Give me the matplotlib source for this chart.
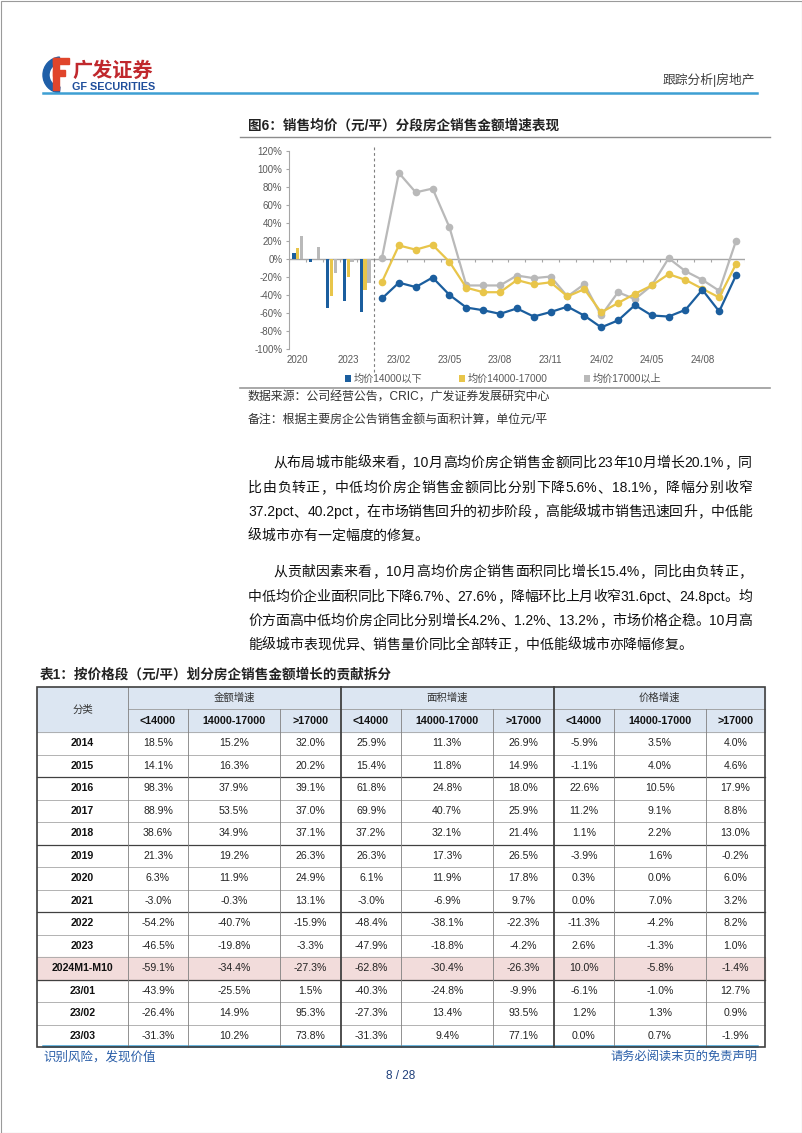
import re
import numpy as np
import matplotlib
matplotlib.use('Agg')
import matplotlib.pyplot as plt
from matplotlib.patches import Rectangle, Wedge

plt.rcParams['font.family'] = ['Liberation Sans', 'Noto Sans CJK SC']

# datos del grafico
bar_cats = ['2020', '2021', '2022', '2023', '2024M1-M10']
month_cats = ['23/01', '23/02', '23/03', '23/04', '23/05', '23/06', '23/07', '23/08',
              '23/09', '23/10', '23/11', '23/12', '24/01', '24/02', '24/03', '24/04',
              '24/05', '24/06', '24/07', '24/08', '24/09', '24/10']
bar_low = [6.3, -3.0, -54.2, -46.5, -59.1]
bar_mid = [11.9, -0.3, -40.7, -19.8, -34.4]
bar_high = [24.9, 13.1, -15.9, -3.3, -27.3]
m_low = [-43.9, -26.4, -31.3, -20.7, -40.0, -54.0, -57.0, -61.0, -55.0, -64.0, -59.0,
         -53.0, -63.0, -76.0, -68.3, -51.3, -62.8, -64.0, -56.5, -34.3, -58.3, -18.1]
m_mid = [-25.5, 14.9, 10.2, 15.5, -3.3, -32.0, -37.0, -37.0, -23.5, -28.4, -26.0,
         -41.7, -33.6, -59.4, -49.0, -38.8, -29.5, -17.0, -23.3, -33.2, -42.8, -5.6]
m_high = [1.5, 95.3, 73.8, 78.0, 35.0, -29.5, -29.5, -29.5, -18.5, -21.4, -19.6,
          -41.7, -28.0, -62.8, -37.0, -44.7, -29.5, 0.7, -13.7, -23.3, -35.4, 20.1]
series_names = ['均价14000以下', '均价14000-17000', '均价17000以上']
colores = ['#1b5e9e', '#e8c54a', '#b9b9b9']

# datos de la tabla
row_labels = ['2014', '2015', '2016', '2017', '2018', '2019', '2020', '2021', '2022',
              '2023', '2024M1-M10', '23/01', '23/02', '23/03']
amt_low = [18.5, 14.1, 98.3, 88.9, 38.6, 21.3, 6.3, -3.0, -54.2, -46.5, -59.1, -43.9, -26.4, -31.3]
amt_mid = [15.2, 16.3, 37.9, 53.5, 34.9, 19.2, 11.9, -0.3, -40.7, -19.8, -34.4, -25.5, 14.9, 10.2]
amt_high = [32.0, 20.2, 39.1, 37.0, 37.1, 26.3, 24.9, 13.1, -15.9, -3.3, -27.3, 1.5, 95.3, 73.8]
area_low = [25.9, 15.4, 61.8, 69.9, 37.2, 26.3, 6.1, -3.0, -48.4, -47.9, -62.8, -40.3, -27.3, -31.3]
area_mid = [11.3, 11.8, 24.8, 40.7, 32.1, 17.3, 11.9, -6.9, -38.1, -18.8, -30.4, -24.8, 13.4, 9.4]
area_high = [26.9, 14.9, 18.0, 25.9, 21.4, 26.5, 17.8, 9.7, -22.3, -4.2, -26.3, -9.9, 93.5, 77.1]
price_low = [-5.9, -1.1, 22.6, 11.2, 1.1, -3.9, 0.3, 0.0, -11.3, 2.6, 10.0, -6.1, 1.2, 0.0]
price_mid = [3.5, 4.0, 10.5, 9.1, 2.2, 1.6, 0.0, 7.0, -4.2, -1.3, -5.8, -1.0, 1.3, 0.7]
price_high = [4.0, 4.6, 17.9, 8.8, 13.0, -0.2, 6.0, 3.2, 8.2, 1.0, -1.4, 12.7, 0.9, -1.9]
group_names = ['金额增速', '面积增速', '价格增速']
band_names = ['<14000', '14000-17000', '>17000']

parrafo1 = ['从布局城市能级来看，10月高均价房企销售金额同比23年10月增长20.1%，同',
            '比由负转正，中低均价房企销售金额同比分别下降5.6%、18.1%，降幅分别收窄',
            '37.2pct、40.2pct，在市场销售回升的初步阶段，高能级城市销售迅速回升，中低能',
            '级城市亦有一定幅度的修复。']
parrafo2 = ['从贡献因素来看，10月高均价房企销售面积同比增长15.4%，同比由负转正，',
            '中低均价企业面积同比下降6.7%、27.6%，降幅环比上月收窄31.6pct、24.8pct。均',
            '价方面高中低均价房企同比分别增长4.2%、1.2%、13.2%，市场价格企稳。10月高',
            '能级城市表现优异、销售量价同比全部转正，中低能级城市亦降幅修复。']

W, H = 802, 1133
fig = plt.figure(figsize=(W / 100, H / 100), dpi=100)
pg = fig.add_axes([0, 0, 1, 1])
pg.set_xlim(0, W)
pg.set_ylim(H, 0)
pg.axis('off')
pg.add_patch(Rectangle((0.5, 0.5), W - 1, H - 1, fill=False, ec='#9a9a9a', lw=0.8))

# cabecera
pg.add_patch(Wedge((61, 75), 18, 95, 265, width=6, color='#1f5fa8'))
pg.add_patch(Rectangle((53, 58), 5.5, 32, color='#e0452b'))
pg.add_patch(Rectangle((53, 58), 16, 5.5, color='#e0452b'))
pg.add_patch(Rectangle((53, 70), 12, 5.5, color='#e0452b'))
pg.text(72, 71, '广发证券', fontsize=14.5, fontweight='bold', color='#c0282d', va='center')
pg.text(72, 86.5, 'GF SECURITIES', fontsize=7.8, fontweight='bold', color='#1f4e9b', va='center')
pg.text(755, 80, '跟踪分析|房地产', fontsize=9.2, color='#404040', va='center', ha='right')
pg.plot([43, 757], [93, 93], color='#3d9fd3', lw=1.8)

# titulo del grafico
pg.text(248, 126, '图6：销售均价（元/平）分段房企销售金额增速表现', fontsize=9.8,
        fontweight='bold', color='#222222', va='center')
pg.plot([240, 770], [137, 137], color='#8c8c8c', lw=1.0)

# grafico
x0, x1, ytop, ybot = 289.3, 744.5, 150.7, 349.0
ax = fig.add_axes([x0 / W, 1 - ybot / H, (x1 - x0) / W, (ybot - ytop) / H])
ax.patch.set_alpha(0)
cats = bar_cats + month_cats
xb = np.arange(len(bar_cats))
xm = np.arange(len(bar_cats), len(cats))
bw = 0.21
handles = []
for k, (vals, c) in enumerate(zip([bar_low, bar_mid, bar_high], colores)):
    handles.append(ax.bar(xb + (k - 1) * 0.23, vals, width=bw, color=c, zorder=3))
for vals, c in zip([m_high, m_mid, m_low], colores[::-1]):
    ax.plot(xm, vals, color=c, lw=1.6, marker='o', ms=5.5, mew=0, zorder=4)
ax.axhline(0, color='#a6a6a6', lw=1.0, zorder=2)
ax.vlines(np.arange(-0.5, len(cats), 1), -3, 0, colors='#a6a6a6', lw=0.8, zorder=2)
ax.axvline(4.5, ymin=-0.116, ymax=1.03, clip_on=False, color='#7f7f7f', lw=0.8,
           ls=(0, (2.5, 2.5)))
ax.set_xlim(-0.5, len(cats) - 0.5)
ax.set_ylim(-100, 120)
ax.set_yticks(np.arange(-100, 121, 20))
ax.set_yticklabels([f'{v}%' for v in range(-100, 121, 20)])
ax.set_xticks(np.arange(0, len(cats), 3))
ax.set_xticklabels(cats[::3])
for s in ['top', 'right', 'bottom']:
    ax.spines[s].set_visible(False)
ax.spines['left'].set_color('#a6a6a6')
ax.tick_params(axis='y', length=2.5, color='#a6a6a6', labelsize=7, labelcolor='#595959', pad=2.5)
ax.tick_params(axis='x', length=0, labelsize=7, labelcolor='#595959', pad=4)
ax.legend(handles, series_names, loc='center', bbox_to_anchor=(503 / W, 1 - 379 / H),
          bbox_transform=fig.transFigure, ncol=3, frameon=False, fontsize=7.3,
          handlelength=0.6, handleheight=0.6, handletextpad=0.25, columnspacing=3.6,
          labelcolor='#595959')

pg.plot([240, 770], [388, 388], color='#9a9a9a', lw=1.2)
pg.text(248, 398, '数据来源：公司经营公告，CRIC，广发证券发展研究中心', fontsize=8.6,
        color='#333333', va='center')
pg.text(248, 421, '备注：根据主要房企公告销售金额与面积计算，单位元/平', fontsize=8.6,
        color='#333333', va='center')

# parrafos justificados
rend = fig.canvas.get_renderer()


def linea(txt, xa, xb_, y, justificar=True, size=10.0):
    tokens = re.findall(r'[ -~]+|.', txt)
    objs = [pg.text(0, y, t, fontsize=size, color='#111111', va='baseline') for t in tokens]
    anchos = [o.get_window_extent(rend).width for o in objs]
    extra = 0
    if justificar and len(tokens) > 1:
        extra = (xb_ - xa - sum(anchos)) / (len(tokens) - 1)
    x = xa
    for o, w in zip(objs, anchos):
        o.set_x(x)
        x += w + extra


for parrafo, ys in [(parrafo1, [462, 487, 511, 535]), (parrafo2, [571, 596, 620, 644])]:
    for i, (txt, y) in enumerate(zip(parrafo, ys)):
        linea(txt, 273 if i == 0 else 248, 752, y + 5, justificar=(i < len(parrafo) - 1))

# tabla
pg.text(40, 675, '表1：按价格段（元/平）划分房企销售金额增长的贡献拆分', fontsize=9.8,
        fontweight='bold', color='#222222', va='center')
pg.plot([43, 757], [1046, 1046], color='#3d9fd3', lw=1.8, zorder=1)

cols = [37, 128, 188, 280, 341, 401, 493, 554, 614, 706, 765]
top, h1, h2 = 687, 709, 732
rh = (1047 - h2) / len(row_labels)
rows = [h2 + rh * i for i in range(len(row_labels) + 1)]
pg.add_patch(Rectangle((cols[0], top), cols[-1] - cols[0], h2 - top, color='#dce6f2', zorder=2))
hl = row_labels.index('2024M1-M10')
pg.add_patch(Rectangle((cols[0], rows[hl]), cols[-1] - cols[0], rh, color='#f2dcdb', zorder=2))

valores = [amt_low, amt_mid, amt_high, area_low, area_mid, area_high,
           price_low, price_mid, price_high]
pg.text((cols[0] + cols[1]) / 2, (top + h2) / 2, '分类', fontsize=7.5, color='#333333',
        ha='center', va='center', zorder=5)
for g, nombre in enumerate(group_names):
    pg.text((cols[1 + 3 * g] + cols[4 + 3 * g]) / 2, (top + h1) / 2, nombre, fontsize=7.5,
            color='#333333', ha='center', va='center', zorder=5)
    for b, banda in enumerate(band_names):
        c = 1 + 3 * g + b
        pg.text((cols[c] + cols[c + 1]) / 2, (h1 + h2) / 2, banda, fontsize=7.7,
                fontweight='bold', color='#111111', ha='center', va='center', zorder=5)
for r, lab in enumerate(row_labels):
    yc = rows[r] + rh / 2
    pg.text((cols[0] + cols[1]) / 2, yc, lab, fontsize=7.6, fontweight='bold',
            color='#111111', ha='center', va='center', zorder=5)
    for c, serie in enumerate(valores):
        pg.text((cols[c + 1] + cols[c + 2]) / 2, yc, f'{serie[r]:.1f}%', fontsize=7.6,
                color='#222222', ha='center', va='center', zorder=5)

# lineas de la tabla
pg.plot([cols[1], cols[-1]], [h1, h1], color='#9a9a9a', lw=0.6, zorder=3)
for r, y in enumerate(rows[:-1]):
    oscura = r in (2, 5, 8, 11)
    pg.plot([cols[0], cols[-1]], [y, y], color='#404040' if oscura else '#a6a6a6',
            lw=0.9 if oscura else 0.6, zorder=3)
for c, x in enumerate(cols[1:-1], start=1):
    gruesa = c in (4, 7)
    ya = top if c in (1, 4, 7) else h1
    pg.plot([x, x], [ya, rows[-1]], color='#404040' if gruesa else '#808080',
            lw=1.3 if gruesa else 0.6, zorder=3)
pg.add_patch(Rectangle((cols[0], top), cols[-1] - cols[0], rows[-1] - top, fill=False,
                       ec='#404040', lw=1.2, zorder=4))

# pie de pagina
pg.text(43, 1057, '识别风险，发现价值', fontsize=9, color='#2a5ea8', va='center')
pg.text(757, 1057, '请务必阅读末页的免责声明', fontsize=8.8, color='#2a5ea8', va='center', ha='right')
pg.text(401, 1076, '8 / 28', fontsize=8.5, color='#1f3f7a', va='center', ha='center')

fig.savefig('out.png', dpi=100)
